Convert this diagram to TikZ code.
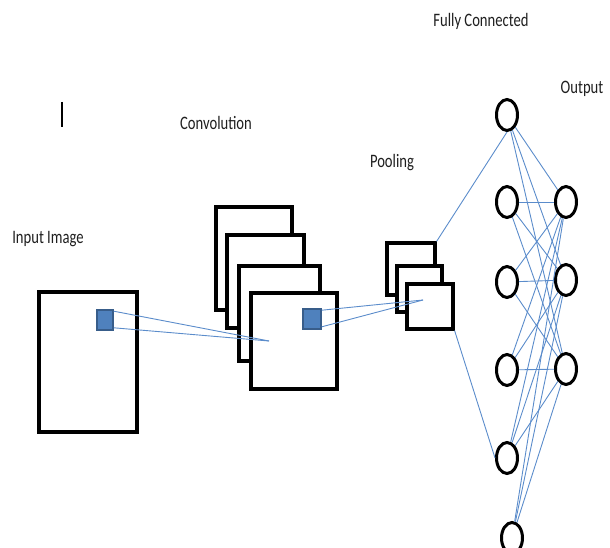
\documentclass[tikz,border=0pt]{standalone}
\usepackage{fontspec}
\setmainfont{Carlito}
\usetikzlibrary{shapes.geometric}
\definecolor{linkblue}{HTML}{5B8CCB}
\definecolor{kfill}{HTML}{4F81BD}
\definecolor{kdraw}{HTML}{385D8A}
\begin{document}
\begin{tikzpicture}[x=1pt,y=-1pt,
  lbl/.style={inner sep=0pt, font=\fontsize{19}{20}\selectfont, text=black!88},
  layer/.style={draw=black, line width=3.2pt, fill=white, rectangle, inner sep=0pt},
  kernel/.style={draw=kdraw, line width=1.6pt, fill=kfill, rectangle, inner sep=0pt},
  neuron/.style={draw=black, line width=3pt, ellipse, inner sep=0pt, minimum width=21pt, minimum height=31pt},
  link/.style={draw=linkblue, line width=0.9pt}
]
\useasboundingbox (0,0) rectangle (610,548);

% labels
\node[lbl] (tfc) at (481,21) {\scalebox{0.77}[1]{Fully Connected}};
\node[lbl] (tout) at (582,89) {\scalebox{0.77}[1]{Output}};
\node[lbl] (tconv) at (216,123) {\scalebox{0.77}[1]{Convolution}};
\node[lbl] (tpool) at (392,163) {\scalebox{0.77}[1]{Pooling}};
\node[lbl] (tin) at (48,239) {\scalebox{0.77}[1]{Input Image}};

% cursor mark
\draw[line width=1.6pt] (62,102) -- (62,127);

% input image
\node[layer, minimum width=98pt, minimum height=140pt] (inp) at (88,362) {};
\node[kernel, minimum width=16pt, minimum height=20pt] (k1) at (105,320) {};

% convolution layers
\node[layer, minimum width=76pt, minimum height=103pt] (c1) at (254,258.5) {};
\node[layer, minimum width=77pt, minimum height=93pt] (c2) at (265.5,281.5) {};
\node[layer, minimum width=81pt, minimum height=95pt] (c3) at (279.5,313.5) {};
\node[layer, minimum width=86pt, minimum height=96pt] (c4) at (294,341) {};
\node[kernel, minimum width=18pt, minimum height=20pt] (k2) at (312,319) {};
\coordinate (a1) at (269,341);

% pooling layers
\node[layer, minimum width=48pt, minimum height=52pt] (p1) at (411,269) {};
\node[layer, minimum width=45pt, minimum height=46pt] (p2) at (419.5,289) {};
\node[layer, minimum width=46pt, minimum height=45pt] (p3) at (430,306.5) {};
\coordinate (a2) at (423,300);

% kernel links
\draw[link] ([yshift=-2pt]k1.north east) -- (a1);
\draw[link] ([yshift=3pt]k1.south east) -- (a1);
\draw[link] ([yshift=-2pt]k2.north east) -- (a2);
\draw[link] ([yshift=3pt]k2.south east) -- (a2);

% fully connected neurons
\node[neuron] (f1) at (507,115) {};
\node[neuron] (f2) at (507,202) {};
\node[neuron] (f3) at (507,282) {};
\node[neuron] (f4) at (507,370) {};
\node[neuron] (f5) at (507,458) {};
\node[neuron] (f6) at (512,538) {};
% output neurons
\node[neuron] (o1) at (566,202) {};
\node[neuron] (o2) at (566,280) {};
\node[neuron] (o3) at (566,369) {};

% pooling to fully connected
\draw[link] (p1.north east) -- (f1.south);
\draw[link] (p3.south east) -- (f5.west);

% fully connected to output
\foreach \f in {f1,f2,f3,f4,f5,f6}{
  \foreach \o in {o1,o2,o3}{
    \draw[link] (\f) -- (\o);
  }
}
\end{tikzpicture}
\end{document}
